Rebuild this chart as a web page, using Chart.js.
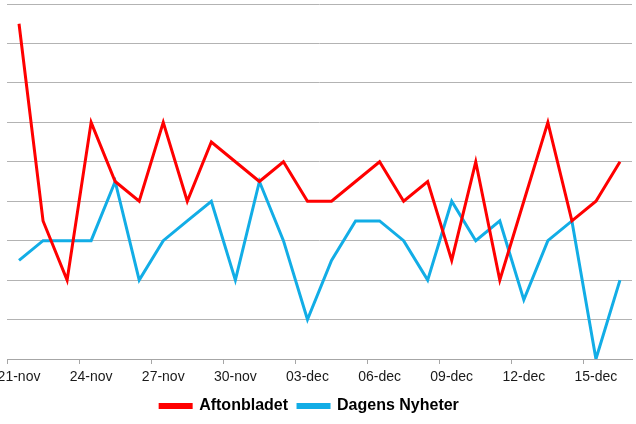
<!DOCTYPE html>
<html>
<head>
<meta charset="utf-8">
<script src="https://cdn.jsdelivr.net/npm/chart.js@4/dist/chart.umd.min.js"></script>
<style>
  html, body { margin: 0; padding: 0; background: #fff; }
  #wrap { width: 636px; height: 424px; }
</style>
</head>
<body>
<div id="wrap"><canvas id="chart" width="636" height="424"></canvas></div>
<script>
// one category per day, 21-nov .. 16-dec
const days = ['21-nov', '22-nov', '23-nov', '24-nov', '25-nov', '26-nov', '27-nov', '28-nov', '29-nov',
  '30-nov', '01-dec', '02-dec', '03-dec', '04-dec', '05-dec', '06-dec', '07-dec', '08-dec', '09-dec',
  '10-dec', '11-dec', '12-dec', '13-dec', '14-dec', '15-dec', '16-dec'];
const aftonbladet = [17, 7, 4, 12, 9, 8, 12, 8, 11, 10, 9, 10, 8, 8, 9, 10, 8, 9, 5, 10, 4, 8, 12, 7, 8, 10];
const dagensNyheter = [5, 6, 6, 6, 9, 4, 6, 7, 8, 4, 9, 6, 2, 5, 7, 7, 6, 4, 8, 6, 7, 3, 6, 7, 0, 4];
const yMax = 18;
const yStep = 2;

// the legend sits a bit left of centre in the original
const shiftLegend = {
  id: 'shiftLegend',
  afterLayout(chart) {
    chart.legend.left -= 10;
    chart.legend.right -= 10;
  },
};

const ctx = document.getElementById('chart');
new Chart(ctx, {
  type: 'line',
  data: {
    labels: days,
    datasets: [
      {
        label: 'Aftonbladet',
        data: aftonbladet,
        borderColor: '#ff0000',
        backgroundColor: '#ff0000',
        borderWidth: 3,
        pointRadius: 0,
        tension: 0,
      },
      {
        label: 'Dagens Nyheter',
        data: dagensNyheter,
        borderColor: '#12ade6',
        backgroundColor: '#12ade6',
        borderWidth: 3,
        pointRadius: 0,
        tension: 0,
      },
    ],
  },
  plugins: [shiftLegend],
  options: {
    responsive: false,
    animation: false,
    layout: { padding: { left: 7, right: 4, top: 4, bottom: 0 } },
    plugins: {
      tooltip: { enabled: false },
      legend: {
        position: 'bottom',
        labels: {
          boxWidth: 31,
          boxHeight: 3,
          padding: 10,
          color: '#000',
          font: { family: 'Liberation Sans, Arial', size: 16, weight: 'bold' },
        },
      },
    },
    scales: {
      x: {
        offset: true,
        afterFit: (s) => { s.height = 29; s.paddingLeft = 0; s.paddingRight = 0; },
        grid: {
          offset: true,
          drawOnChartArea: false,
          drawTicks: true,
          tickLength: 5,
          color: (c) => (c.index % 3 === 0 ? '#a6a6a6' : 'rgba(0,0,0,0)'),
        },
        border: { color: '#a6a6a6', width: 1 },
        ticks: {
          autoSkip: false,
          maxRotation: 0,
          padding: 5,
          color: '#1a1a1a',
          font: { family: 'Liberation Sans, Arial', size: 14 },
          callback: (v, i) => (i % 3 === 0 ? days[i] : ''),
        },
      },
      y: {
        min: 0,
        max: yMax,
        afterFit: (s) => { s.width = 0; },
        ticks: { display: false, stepSize: yStep },
        grid: { color: '#b3b3b3', lineWidth: 1, drawTicks: false },
        border: { display: false },
      },
    },
  },
});
</script>
</body>
</html>
